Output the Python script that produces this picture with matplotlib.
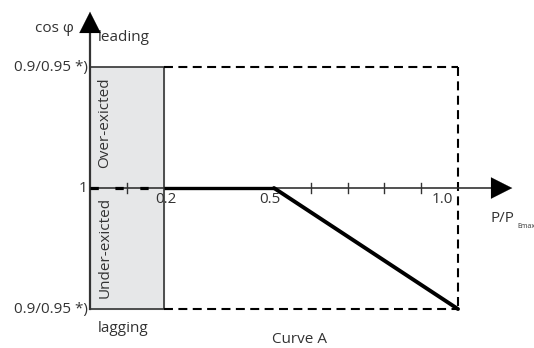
import matplotlib.pyplot as plt

# power ratio P/P_Emax and cos phi position (0 = "1", +1 = leading limit, -1 = lagging limit)
curve_x = [0.5, 1.0]
curve_y = [0.0, -1.0]
flat_x = [0.2, 0.5]
flat_y = [0.0, 0.0]
dash_x = [0.0, 0.2]
dash_y = [0.0, 0.0]
box_x = [0.0, 0.2]
limit_x = 1.0
tick_pos = [0.1, 0.6, 0.7, 0.8, 0.9]
tick_vals = [0.2, 0.5, 1.0]
tick_text = ["0.2", "0.5", "1.0"]
y_vals = [1, 0, -1]
y_text = ["0.9/0.95 *)", "1", "0.9/0.95 *)"]

txt = '#333333'
fnt = 'Open Sans'
fs = 11

fig = plt.figure(figsize=(5.34, 3.48), dpi=100)
ax = fig.add_axes([0, 0, 1, 1])
ax.set_xlim(-0.2446, 1.2065)
ax.set_ylim(-1.322, 1.554)
ax.set_axis_off()

# grey over/under-excited box
ax.fill_between(box_x, -1, 1, color='#e6e7e8', zorder=1)
ax.plot([box_x[0], box_x[1], box_x[1], box_x[0]], [1, 1, -1, -1], color='#333333', lw=1.2, zorder=2)

# dashed limits
dsh = (0, (4.3, 2.6))
ax.plot([box_x[1], limit_x], [1, 1], color='black', lw=1.5, ls=dsh, zorder=2)
ax.plot([box_x[1], limit_x], [-1, -1], color='black', lw=1.5, ls=dsh, zorder=2)
ax.plot([limit_x, limit_x], [1, -1], color='black', lw=1.5, ls=dsh, zorder=2)

# axes with arrows
ax.plot([0, 1.12], [0, 0], color='#333333', lw=1.2, zorder=3)
ax.plot([0, 0], [-1, 1.33], color='#333333', lw=1.6, zorder=3)
head = dict(arrowstyle='-|>,head_length=0.95,head_width=0.48', color='black', lw=0.1, mutation_scale=16)
ax.annotate('', xy=(1.155, 0), xytext=(1.09, 0), arrowprops=head, zorder=4)
ax.annotate('', xy=(0, 1.48), xytext=(0, 1.28), arrowprops=head, zorder=4)

for t in tick_pos:
    ax.plot([t, t], [-0.045, 0.045], color='#333333', lw=1, zorder=3)

# curve A
ax.plot(dash_x, dash_y, color='black', lw=2.3, ls=(0, (2.6, 5.2)), zorder=4, solid_capstyle='butt')
ax.plot(flat_x, flat_y, color='black', lw=2.4, zorder=4, solid_capstyle='butt')
ax.plot(curve_x, curve_y, color='black', lw=2.8, zorder=4, solid_capstyle='round')

# labels
offs = [2, -3, -11]
for v, s, o in zip(tick_vals, tick_text, offs):
    ax.annotate(s, (v, 0), xytext=(o, -3), textcoords='offset points', ha='center', va='top',
                fontsize=fs, color=txt, family=fnt, zorder=5)
for v, s in zip(y_vals, y_text):
    ax.text(-0.006, v, s, ha='right', va='center', fontsize=fs, color=txt, family=fnt)

ax.text(-0.043, 1.32, "cos φ", ha='right', va='center', fontsize=fs, color=txt, family=fnt)
ax.text(0.02, 1.24, "leading", ha='left', va='center', fontsize=fs, color=txt, family=fnt)
ax.text(0.02, -1.16, "lagging", ha='left', va='center', fontsize=fs, color=txt, family=fnt)
ax.text(0.495, -1.25, "Curve A", ha='left', va='center', fontsize=fs, color=txt, family=fnt)
ax.text(1.088, -0.255, "P/P", ha='left', va='center', fontsize=fs, color=txt, family=fnt)
ax.text(1.16, -0.315, "Emax", ha='left', va='center', fontsize=5, color=txt, family=fnt)

ax.text(0.041, 0.54, "Over-exicted", rotation=90, ha='center', va='center', fontsize=fs, color=txt, family=fnt)
ax.text(0.041, -0.49, "Under-exicted", rotation=90, ha='center', va='center', fontsize=fs, color=txt, family=fnt)

plt.savefig('out.png', dpi=100)
